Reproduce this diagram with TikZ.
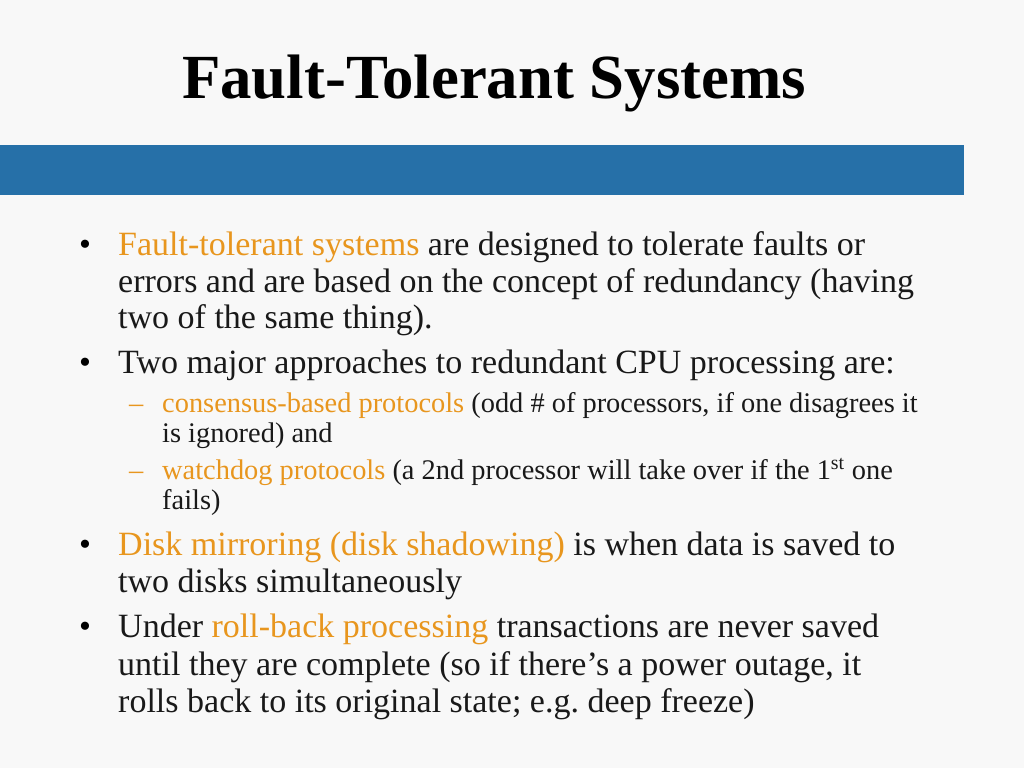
\documentclass[tikz,border=0pt]{standalone}
\usepackage{fontspec}
\setmainfont{Liberation Serif}
\usepackage{tikz}
\definecolor{slidebg}{RGB}{248,248,248}
\definecolor{barblue}{RGB}{38,112,168}
\definecolor{hilite}{RGB}{232,150,30}
\definecolor{ink}{RGB}{25,25,25}
\frenchspacing

\begin{document}
\begin{tikzpicture}[x=1pt,y=-1pt,
    line/.style={anchor=base west,inner sep=0pt,text=ink,
      font=\fontsize{34}{37}\selectfont},
    subline/.style={line,font=\fontsize{28.4}{30}\selectfont},
    bulletmark/.style={line,text=black},
    subdash/.style={subline,text=hilite}
  ]
  \fill[slidebg] (0,0) rectangle (1024,768);
  \useasboundingbox (0,0) rectangle (1024,768);
  \fill[barblue] (0,145) rectangle (964,195);
  \node[line,text=black,font=\bfseries\fontsize{62.8}{70}\selectfont]
    (title) at (182,98) {Fault-Tolerant Systems};

  % first bullet
  \node[bulletmark] (b1) at (79,255) {•};
  \node[line] (l1) at (118,255) {\textcolor{hilite}{Fault-tolerant systems} are designed to tolerate faults or};
  \node[line] (l2) at (118,292) {errors and are based on the concept of redundancy (having};
  \node[line] (l3) at (118,328) {two of the same thing).};

  % second bullet
  \node[bulletmark] (b2) at (79,373) {•};
  \node[line] (l4) at (118,373) {Two major approaches to redundant CPU processing are:};
  \node[subdash] (d1) at (129,412) {–};
  \node[subline] (s1) at (162,412) {\textcolor{hilite}{consensus-based protocols} (odd \# of processors, if one disagrees it};
  \node[subline] (s2) at (162,442) {is ignored) and};
  \node[subdash] (d2) at (129,479) {–};
  \node[subline] (s3) at (162,479) {\textcolor{hilite}{watchdog protocols} (a 2nd processor will take over if the 1\textsuperscript{st} one};
  \node[subline] (s4) at (162,509) {fails)};

  % third bullet
  \node[bulletmark] (b3) at (79,555) {•};
  \node[line] (l5) at (118,555) {\textcolor{hilite}{Disk mirroring (disk shadowing)} is when data is saved to};
  \node[line] (l6) at (118,592) {two disks simultaneously};

  % fourth bullet
  \node[bulletmark] (b4) at (79,637) {•};
  \node[line] (l7) at (118,637) {Under \textcolor{hilite}{roll-back processing} transactions are never saved};
  \node[line] (l8) at (118,675) {until they are complete (so if there’s a power outage, it};
  \node[line] (l9) at (118,712) {rolls back to its original state; e.g. deep freeze)};
\end{tikzpicture}
\end{document}
